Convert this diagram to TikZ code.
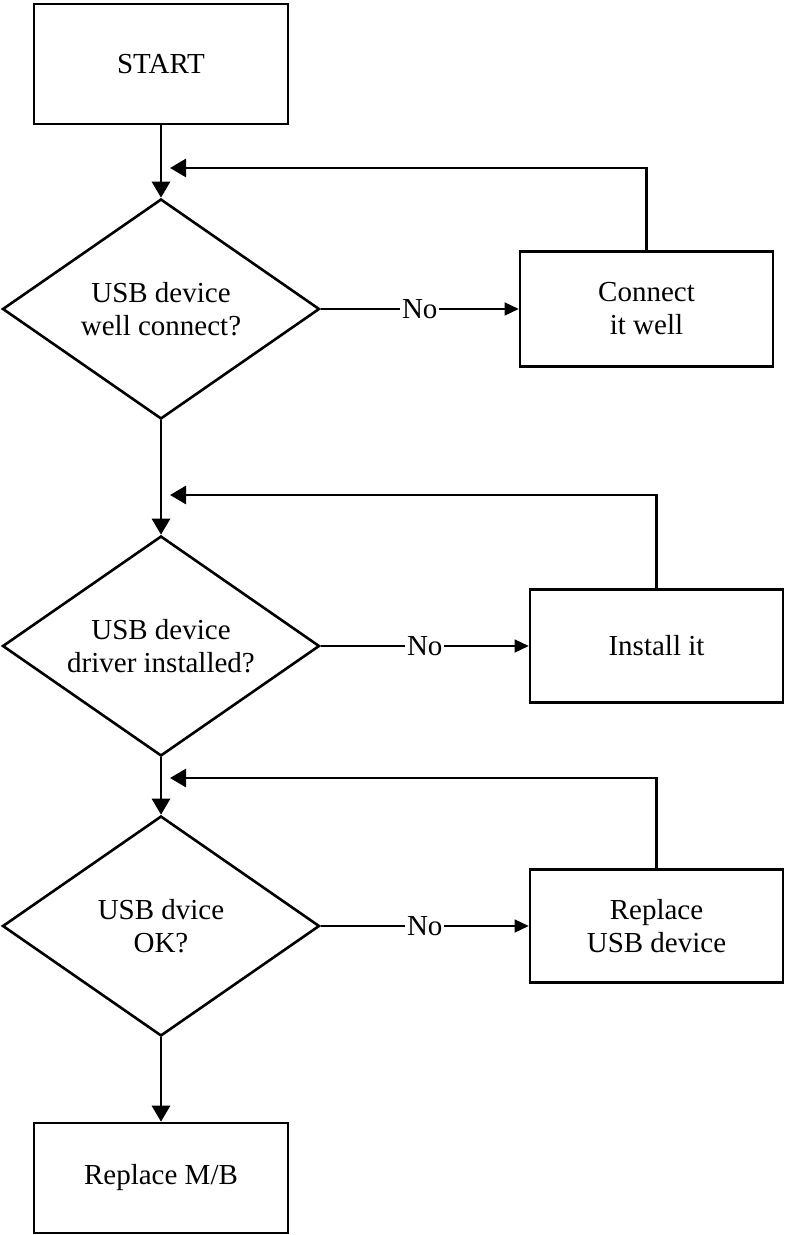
\documentclass[tikz,border=0pt]{standalone}
\usepackage{fontspec}
\setmainfont{Liberation Serif}
\usetikzlibrary{shapes.geometric, arrows.meta}

\tikzset{
  procbox/.style={draw, line width=1.3pt, minimum width=#1, inner sep=2pt, align=center},
  procbox/.default=127pt,
  decide/.style={draw, diamond, line width=1.3pt, aspect=1.44, inner sep=0pt,
    minimum width=158.5pt, minimum height=110pt, align=center},
  flow/.style={line width=1.4pt, -{Triangle[length=8pt, width=9pt]}},
  nolink/.style={line width=0.7pt, -{Triangle[length=7pt, width=6.5pt]}},
  nolabel/.style={fill=white, inner sep=1pt}
}

\begin{document}
\begin{tikzpicture}[x=0.5pt, y=-0.5pt, font=\fontsize{14.5}{16.5}\selectfont]
  \useasboundingbox (0,0) rectangle (784,1235);

  % main column at x=161, fix boxes on the right
  \node[procbox, minimum height=60pt] (start) at (161,64) {START};
  \node[decide] (dwell) at (161,309) {USB device\\well connect?};
  \node[procbox=126.5pt, minimum height=57.5pt] (fixwell) at (646.5,309) {Connect\\it well};
  \node[decide] (ddrv) at (161,646) {USB device\\driver installed?};
  \node[procbox=126.5pt, minimum height=56.5pt] (fixdrv) at (656.5,646) {Install it};
  \node[decide] (dok) at (161,926) {USB dvice\\OK?};
  \node[procbox=126.5pt, minimum height=56.5pt] (fixdev) at (656.5,926) {Replace\\USB device};
  \node[procbox, minimum height=55pt] (mb) at (161,1178) {Replace M/B};

  % return points just right of the main column
  \coordinate (back1) at (170,168);
  \coordinate (back2) at (170,495);
  \coordinate (back3) at (170,778);

  \draw[flow] (start) -- (dwell);
  \draw[flow] (dwell) -- (ddrv);
  \draw[flow] (ddrv) -- (dok);
  \draw[flow] (dok) -- (mb);

  \draw[nolink] (dwell) -- node[nolabel] {No} (fixwell);
  \draw[nolink] (ddrv) -- node[nolabel] {No} (fixdrv);
  \draw[nolink] (dok) -- node[nolabel] {No} (fixdev);

  \draw[flow] (fixwell.north) |- (back1);
  \draw[flow] (fixdrv.north) |- (back2);
  \draw[flow] (fixdev.north) |- (back3);
\end{tikzpicture}
\end{document}
